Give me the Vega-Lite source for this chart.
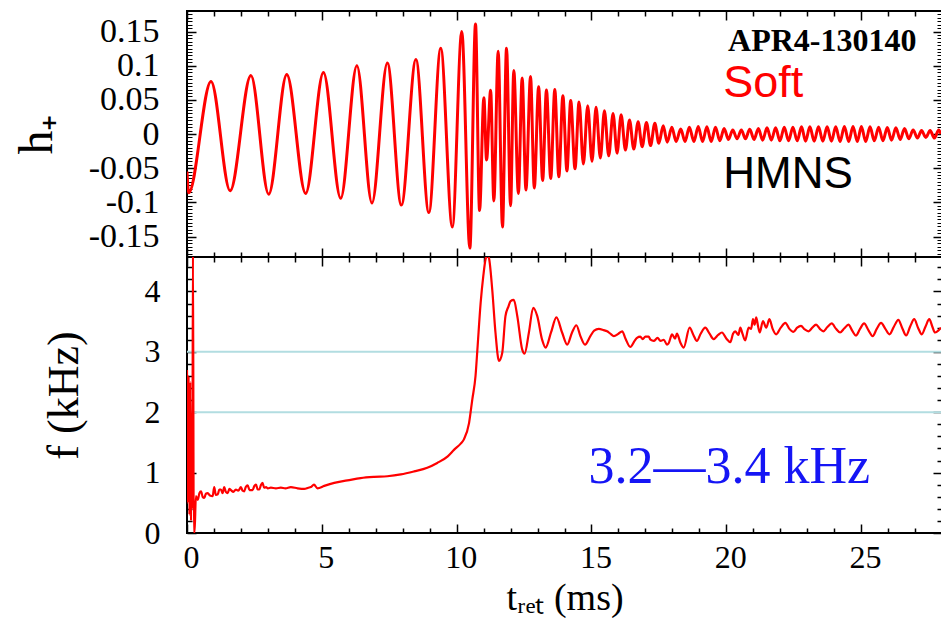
{
"$schema": "https://vega.github.io/schema/vega-lite/v6.json",
"background": "white",
"padding": {"left": 12, "top": 9, "right": 0, "bottom": 0},
"bounds": "flush",
"config": {
  "view": {"stroke": "black", "strokeWidth": 2},
  "axis": {"domain": false, "grid": false, "labelFont": "Liberation Serif", "labelFontSize": 32, "labelColor": "black", "tickColor": "black", "tickWidth": 1.5, "titleFont": "Liberation Serif", "titleFontSize": 44, "titleFontWeight": "normal", "titleColor": "black", "labelFlush": false, "labelOverlap": false}
},
"datasets": {
  "hp": [
{"t":0,"h":-0.055},{"t":0.06,"h":-0.086},{"t":0.89,"h":0.077},{"t":1.6,"h":-0.083},{"t":2.37,"h":0.0855},{"t":3.03,"h":-0.088},{"t":3.7,"h":0.087},{"t":4.4,"h":-0.087},{"t":5.06,"h":0.09},{"t":5.7,"h":-0.094},{"t":6.3,"h":0.1},{"t":6.86,"h":-0.101},{"t":7.43,"h":0.104},{"t":7.95,"h":-0.104},{"t":8.49,"h":0.109},{"t":8.97,"h":-0.115},{"t":9.41,"h":0.1255},{"t":9.84,"h":-0.136},{"t":10.19,"h":0.15},{"t":10.49,"h":-0.167},{"t":10.7,"h":0.161},{"t":10.85,"h":-0.112},{"t":11.01,"h":0.053},{"t":11.11,"h":-0.038},{"t":11.26,"h":0.064},{"t":11.38,"h":-0.098},{"t":11.54,"h":0.121},{"t":11.7,"h":-0.136},{"t":11.85,"h":0.1255},{"t":12.0,"h":-0.105},{"t":12.12,"h":0.093},{"t":12.29,"h":-0.087},{"t":12.43,"h":0.082},{"t":12.57,"h":-0.082},{"t":12.74,"h":0.084},{"t":12.88,"h":-0.079},{"t":13.04,"h":0.069},{"t":13.19,"h":-0.068},{"t":13.33,"h":0.0645},{"t":13.49,"h":-0.065},{"t":13.64,"h":0.065},{"t":13.79,"h":-0.0626},{"t":13.94,"h":0.056},{"t":14.09,"h":-0.054},{"t":14.23,"h":0.049},{"t":14.39,"h":-0.051},{"t":14.54,"h":0.047},{"t":14.7,"h":-0.044},{"t":14.86,"h":0.0415},{"t":15.02,"h":-0.04},{"t":15.17,"h":0.039},{"t":15.33,"h":-0.035},{"t":15.48,"h":0.034},{"t":15.64,"h":-0.032},{"t":15.8,"h":0.03},{"t":15.95,"h":-0.028},{"t":16.1,"h":0.028},{"t":16.26,"h":-0.0235},{"t":16.41,"h":0.0205},{"t":16.57,"h":-0.022},{"t":16.73,"h":0.018},{"t":16.88,"h":-0.0186},{"t":17.04,"h":0.017},{"t":17.19,"h":-0.017},{"t":17.35,"h":0.0156},{"t":17.5,"h":-0.0137},{"t":17.66,"h":0.012},{"t":17.81,"h":-0.012},{"t":17.98,"h":0.0098},{"t":18.14,"h":-0.011},{"t":18.31,"h":0.0073},{"t":18.47,"h":-0.011},{"t":18.63,"h":0.0098},{"t":18.8,"h":-0.011},{"t":18.96,"h":0.011},{"t":19.12,"h":-0.011},{"t":19.28,"h":0.0105},{"t":19.44,"h":-0.011},{"t":19.6,"h":0.01},{"t":19.76,"h":-0.01},{"t":19.92,"h":0.008},{"t":20.08,"h":-0.008},{"t":20.24,"h":0.006},{"t":20.4,"h":-0.007},{"t":20.56,"h":0.006},{"t":20.71,"h":-0.007},{"t":20.87,"h":0.007},{"t":21.03,"h":-0.008},{"t":21.19,"h":0.008},{"t":21.35,"h":-0.009},{"t":21.51,"h":0.009},{"t":21.67,"h":-0.009},{"t":21.83,"h":0.009},{"t":21.99,"h":-0.01},{"t":22.15,"h":0.01},{"t":22.31,"h":-0.01},{"t":22.47,"h":0.01},{"t":22.63,"h":-0.01},{"t":22.79,"h":0.0105},{"t":22.94,"h":-0.0105},{"t":23.1,"h":0.0105},{"t":23.26,"h":-0.0105},{"t":23.42,"h":0.0105},{"t":23.58,"h":-0.0105},{"t":23.74,"h":0.0105},{"t":23.9,"h":-0.0105},{"t":24.06,"h":0.0105},{"t":24.22,"h":-0.011},{"t":24.38,"h":0.011},{"t":24.54,"h":-0.011},{"t":24.7,"h":0.011},{"t":24.86,"h":-0.011},{"t":25.01,"h":0.011},{"t":25.17,"h":-0.011},{"t":25.33,"h":0.0105},{"t":25.49,"h":-0.01},{"t":25.65,"h":0.01},{"t":25.81,"h":-0.01},{"t":25.97,"h":0.0095},{"t":26.13,"h":-0.009},{"t":26.29,"h":0.009},{"t":26.45,"h":-0.008},{"t":26.61,"h":0.008},{"t":26.77,"h":-0.007},{"t":26.93,"h":0.006},{"t":27.09,"h":-0.006},{"t":27.24,"h":0.005},{"t":27.4,"h":-0.005},{"t":27.56,"h":0.005},{"t":27.72,"h":-0.006},{"t":27.88,"h":0.006},{"t":27.96,"h":0.0}
  ],
  "freq": [
{"t":0.0,"f":2.7},{"t":0.03,"f":0.5},{"t":0.06,"f":2.6},{"t":0.09,"f":0.3},{"t":0.12,"f":2.5},{"t":0.15,"f":0.2},{"t":0.18,"f":2.0},{"t":0.2,"f":0.4},{"t":0.22,"f":4.8},{"t":0.25,"f":0.0},{"t":0.28,"f":0.0},{"t":0.33,"f":0.61},{"t":0.4,"f":0.55},{"t":0.46,"f":0.66},{"t":0.52,"f":0.69},{"t":0.58,"f":0.6},{"t":0.64,"f":0.58},{"t":0.7,"f":0.65},{"t":0.77,"f":0.66},{"t":0.85,"f":0.62},{"t":0.95,"f":0.61},{"t":1.01,"f":0.76},{"t":1.07,"f":0.63},{"t":1.14,"f":0.64},{"t":1.2,"f":0.72},{"t":1.26,"f":0.72},{"t":1.32,"f":0.66},{"t":1.38,"f":0.76},{"t":1.44,"f":0.68},{"t":1.51,"f":0.66},{"t":1.57,"f":0.73},{"t":1.63,"f":0.71},{"t":1.72,"f":0.68},{"t":1.81,"f":0.72},{"t":1.9,"f":0.7},{"t":2.0,"f":0.76},{"t":2.06,"f":0.7},{"t":2.12,"f":0.69},{"t":2.18,"f":0.76},{"t":2.25,"f":0.79},{"t":2.32,"f":0.71},{"t":2.43,"f":0.71},{"t":2.5,"f":0.78},{"t":2.56,"f":0.8},{"t":2.62,"f":0.72},{"t":2.68,"f":0.72},{"t":2.74,"f":0.79},{"t":2.8,"f":0.83},{"t":2.86,"f":0.75},{"t":2.93,"f":0.76},{"t":3.0,"f":0.74},{"t":3.11,"f":0.75},{"t":3.3,"f":0.74},{"t":3.48,"f":0.75},{"t":3.65,"f":0.74},{"t":3.85,"f":0.76},{"t":4.1,"f":0.74},{"t":4.35,"f":0.73},{"t":4.5,"f":0.75},{"t":4.59,"f":0.76},{"t":4.71,"f":0.8},{"t":4.84,"f":0.74},{"t":5.09,"f":0.78},{"t":5.46,"f":0.83},{"t":5.95,"f":0.87},{"t":6.44,"f":0.91},{"t":6.94,"f":0.93},{"t":7.43,"f":0.94},{"t":7.93,"f":0.97},{"t":8.42,"f":1.02},{"t":8.91,"f":1.08},{"t":9.28,"f":1.16},{"t":9.67,"f":1.27},{"t":9.91,"f":1.38},{"t":10.15,"f":1.48},{"t":10.27,"f":1.55},{"t":10.46,"f":1.82},{"t":10.58,"f":2.21},{"t":10.7,"f":2.6},{"t":10.77,"f":3.04},{"t":10.89,"f":3.81},{"t":10.99,"f":4.26},{"t":11.07,"f":4.53},{"t":11.14,"f":4.6},{"t":11.2,"f":4.55},{"t":11.32,"f":4.03},{"t":11.44,"f":3.32},{"t":11.57,"f":2.85},{"t":11.69,"f":2.98},{"t":11.81,"f":3.59},{"t":11.92,"f":3.75},{"t":12.0,"f":3.84},{"t":12.12,"f":3.86},{"t":12.25,"f":3.59},{"t":12.43,"f":3.04},{"t":12.52,"f":2.97},{"t":12.68,"f":3.32},{"t":12.84,"f":3.73},{"t":12.99,"f":3.59},{"t":13.17,"f":3.2},{"t":13.3,"f":3.07},{"t":13.5,"f":3.32},{"t":13.7,"f":3.57},{"t":13.91,"f":3.32},{"t":14.1,"f":3.12},{"t":14.28,"f":3.32},{"t":14.44,"f":3.44},{"t":14.59,"f":3.26},{"t":14.76,"f":3.12},{"t":14.96,"f":3.26},{"t":15.1,"f":3.35},{"t":15.27,"f":3.38},{"t":15.45,"f":3.36},{"t":15.58,"f":3.34},{"t":15.7,"f":3.3},{"t":15.83,"f":3.26},{"t":16.0,"f":3.3},{"t":16.14,"f":3.34},{"t":16.26,"f":3.22},{"t":16.44,"f":3.08},{"t":16.6,"f":3.18},{"t":16.69,"f":3.23},{"t":16.81,"f":3.25},{"t":16.9,"f":3.21},{"t":17.0,"f":3.25},{"t":17.12,"f":3.25},{"t":17.19,"f":3.2},{"t":17.31,"f":3.18},{"t":17.45,"f":3.23},{"t":17.56,"f":3.18},{"t":17.68,"f":3.2},{"t":17.8,"f":3.12},{"t":17.86,"f":3.14},{"t":17.99,"f":3.29},{"t":18.1,"f":3.22},{"t":18.17,"f":3.3},{"t":18.3,"f":3.15},{"t":18.42,"f":3.07},{"t":18.64,"f":3.4},{"t":18.78,"f":3.28},{"t":18.91,"f":3.18},{"t":19.05,"f":3.3},{"t":19.22,"f":3.4},{"t":19.38,"f":3.3},{"t":19.53,"f":3.21},{"t":19.7,"f":3.28},{"t":19.84,"f":3.32},{"t":20.0,"f":3.22},{"t":20.15,"f":3.16},{"t":20.25,"f":3.3},{"t":20.33,"f":3.34},{"t":20.45,"f":3.28},{"t":20.52,"f":3.4},{"t":20.6,"f":3.3},{"t":20.7,"f":3.19},{"t":20.83,"f":3.4},{"t":20.92,"f":3.38},{"t":20.99,"f":3.54},{"t":21.05,"f":3.45},{"t":21.11,"f":3.57},{"t":21.18,"f":3.42},{"t":21.24,"f":3.32},{"t":21.36,"f":3.51},{"t":21.48,"f":3.4},{"t":21.6,"f":3.54},{"t":21.72,"f":3.38},{"t":21.85,"f":3.29},{"t":22.02,"f":3.4},{"t":22.19,"f":3.48},{"t":22.34,"f":3.38},{"t":22.49,"f":3.33},{"t":22.63,"f":3.4},{"t":22.77,"f":3.43},{"t":22.91,"f":3.37},{"t":23.05,"f":3.34},{"t":23.19,"f":3.4},{"t":23.33,"f":3.45},{"t":23.47,"f":3.38},{"t":23.6,"f":3.34},{"t":23.75,"f":3.41},{"t":23.91,"f":3.47},{"t":24.07,"f":3.38},{"t":24.22,"f":3.32},{"t":24.38,"f":3.39},{"t":24.53,"f":3.45},{"t":24.67,"f":3.35},{"t":24.81,"f":3.27},{"t":24.96,"f":3.38},{"t":25.11,"f":3.47},{"t":25.27,"f":3.36},{"t":25.43,"f":3.26},{"t":25.58,"f":3.38},{"t":25.74,"f":3.48},{"t":25.9,"f":3.38},{"t":26.05,"f":3.29},{"t":26.22,"f":3.42},{"t":26.38,"f":3.53},{"t":26.52,"f":3.4},{"t":26.67,"f":3.27},{"t":26.82,"f":3.42},{"t":26.97,"f":3.54},{"t":27.11,"f":3.4},{"t":27.25,"f":3.29},{"t":27.39,"f":3.42},{"t":27.53,"f":3.54},{"t":27.64,"f":3.42},{"t":27.74,"f":3.32},{"t":27.96,"f":3.4}
  ],
  "refs": [{"f": 2}, {"f": 3}]
},
"spacing": 0,
"vconcat": [
  {
    "width": 755, "height": 246,
    "resolve": {"axis": {"x": "independent", "y": "independent"}},
    "layer": [
      {"data": {"name": "hp"}, "mark": {"type": "line", "color": "#ff0000", "strokeWidth": 3, "interpolate": "monotone", "clip": true},
       "encoding": {
         "x": {"field": "t", "type": "quantitative", "scale": {"domain": [0, 28], "nice": false, "zero": false}, "axis": {"orient": "bottom", "values": [0,5,10,15,20,25], "labels": false, "ticks": true, "tickSize": 9, "offset": -9, "title": null}},
         "y": {"field": "h", "type": "quantitative", "scale": {"domain": [-0.18, 0.18], "nice": false, "zero": false}, "axis": {"orient": "left", "values": [-0.15,-0.1,-0.05,0,0.05,0.1,0.15], "ticks": false, "tickSize": 0, "labelPadding": 28, "labelFontSize": 34, "labelExpr": "'' + datum.value", "title": "h₊", "titleFontSize": 48, "titleX": -136, "titleBaseline": "alphabetic"}}
       }},
      {"data": {"name": "hp"}, "mark": {"type": "line", "opacity": 0},
       "encoding": {
         "x": {"field": "t", "type": "quantitative", "axis": {"orient": "bottom", "values": [1,2,3,4,6,7,8,9,11,12,13,14,16,17,18,19,21,22,23,24,26,27], "labels": false, "tickSize": 5, "offset": -5, "title": null}},
         "y": {"field": "h", "type": "quantitative", "axis": {"orient": "left", "values": [-0.15,-0.1,-0.05,0,0.05,0.1,0.15], "labels": false, "tickSize": 9, "offset": -9, "title": null}}
       }},
      {"data": {"name": "hp"}, "mark": {"type": "line", "opacity": 0},
       "encoding": {
         "x": {"field": "t", "type": "quantitative", "axis": {"orient": "top", "values": [0,5,10,15,20,25], "labels": false, "tickSize": 9, "offset": -9, "title": null}},
         "y": {"field": "h", "type": "quantitative", "axis": {"orient": "left", "values": [-0.175,-0.17,-0.165,-0.16,-0.155,-0.145,-0.14,-0.135,-0.13,-0.125,-0.12,-0.115,-0.11,-0.105,-0.095,-0.09,-0.085,-0.08,-0.075,-0.07,-0.065,-0.06,-0.055,-0.045,-0.04,-0.035,-0.03,-0.025,-0.02,-0.015,-0.01,-0.005,0.005,0.01,0.015,0.02,0.025,0.03,0.035,0.04,0.045,0.055,0.06,0.065,0.07,0.075,0.08,0.085,0.09,0.095,0.105,0.11,0.115,0.12,0.125,0.13,0.135,0.14,0.145,0.155,0.16,0.165,0.17,0.175], "labels": false, "tickSize": 5, "tickWidth": 1, "offset": -5, "title": null}}
       }},
      {"data": {"name": "hp"}, "mark": {"type": "line", "opacity": 0},
       "encoding": {
         "x": {"field": "t", "type": "quantitative", "axis": {"orient": "top", "values": [1,2,3,4,6,7,8,9,11,12,13,14,16,17,18,19,21,22,23,24,26,27], "labels": false, "tickSize": 5, "offset": -5, "title": null}},
         "y": {"field": "h", "type": "quantitative", "axis": {"orient": "right", "values": [-0.15,-0.1,-0.05,0,0.05,0.1,0.15], "labels": false, "tickSize": 9, "offset": -9, "title": null}}
       }},
      {"data": {"name": "hp"}, "mark": {"type": "line", "opacity": 0},
       "encoding": {
         "x": {"field": "t", "type": "quantitative", "axis": null},
         "y": {"field": "h", "type": "quantitative", "axis": {"orient": "right", "values": [-0.175,-0.17,-0.165,-0.16,-0.155,-0.145,-0.14,-0.135,-0.13,-0.125,-0.12,-0.115,-0.11,-0.105,-0.095,-0.09,-0.085,-0.08,-0.075,-0.07,-0.065,-0.06,-0.055,-0.045,-0.04,-0.035,-0.03,-0.025,-0.02,-0.015,-0.01,-0.005,0.005,0.01,0.015,0.02,0.025,0.03,0.035,0.04,0.045,0.055,0.06,0.065,0.07,0.075,0.08,0.085,0.09,0.095,0.105,0.11,0.115,0.12,0.125,0.13,0.135,0.14,0.145,0.155,0.16,0.165,0.17,0.175], "labels": false, "tickSize": 5, "tickWidth": 1, "offset": -5, "title": null}}
       }},
      {"data": {"values": [{}]}, "mark": {"type": "text", "font": "Liberation Serif", "fontSize": 32, "fontWeight": "bold", "align": "center", "baseline": "alphabetic", "color": "black"},
       "encoding": {"x": {"datum": 23.56, "type": "quantitative", "axis": null}, "y": {"datum": 0.122, "type": "quantitative", "axis": null}, "text": {"value": "APR4-130140"}}},
      {"data": {"values": [{}]}, "mark": {"type": "text", "font": "Liberation Sans", "fontSize": 45, "align": "left", "baseline": "alphabetic", "color": "#ff0000"},
       "encoding": {"x": {"datum": 19.89, "type": "quantitative", "axis": null}, "y": {"datum": 0.0537, "type": "quantitative", "axis": null}, "text": {"value": "Soft"}}},
      {"data": {"values": [{}]}, "mark": {"type": "text", "font": "Liberation Sans", "fontSize": 44, "align": "left", "baseline": "alphabetic", "color": "black"},
       "encoding": {"x": {"datum": 19.89, "type": "quantitative", "axis": null}, "y": {"datum": -0.079, "type": "quantitative", "axis": null}, "text": {"value": "HMNS"}}}
    ]
  },
  {
    "width": 755, "height": 276,
    "resolve": {"axis": {"x": "independent", "y": "independent"}},
    "layer": [
      {"data": {"name": "refs"}, "mark": {"type": "rule", "color": "#b2dde1", "strokeWidth": 2},
       "encoding": {"y": {"field": "f", "type": "quantitative", "scale": {"domain": [0, 4.57], "nice": false, "zero": false}, "axis": null}}},
      {"data": {"name": "freq"}, "mark": {"type": "line", "color": "#ff0000", "strokeWidth": 2.2, "interpolate": "monotone", "clip": true},
       "encoding": {
         "x": {"field": "t", "type": "quantitative", "scale": {"domain": [0, 28], "nice": false, "zero": false}, "axis": {"orient": "bottom", "values": [0,5,10,15,20,25], "ticks": false, "tickSize": 0, "labelPadding": 9, "labelOffset": 4, "title": "tᵣₑₜ (ms)", "titleFontSize": 38, "titleY": 76, "titleBaseline": "alphabetic"}},
         "y": {"field": "f", "type": "quantitative", "axis": {"orient": "left", "values": [0,1,2,3,4], "ticks": false, "tickSize": 0, "labelPadding": 27, "labelExpr": "'' + datum.value", "title": "f (kHz)", "titleX": -110, "titleBaseline": "alphabetic"}}
       }},
      {"data": {"name": "freq"}, "mark": {"type": "line", "opacity": 0},
       "encoding": {
         "x": {"field": "t", "type": "quantitative", "axis": {"orient": "bottom", "values": [0,5,10,15,20,25], "labels": false, "tickSize": 9, "offset": -9, "title": null}},
         "y": {"field": "f", "type": "quantitative", "axis": {"orient": "left", "values": [0,1,2,3,4], "labels": false, "tickSize": 9, "offset": -9, "title": null}}
       }},
      {"data": {"name": "freq"}, "mark": {"type": "line", "opacity": 0},
       "encoding": {
         "x": {"field": "t", "type": "quantitative", "axis": {"orient": "bottom", "values": [1,2,3,4,6,7,8,9,11,12,13,14,16,17,18,19,21,22,23,24,26,27], "labels": false, "tickSize": 5, "offset": -5, "title": null}},
         "y": {"field": "f", "type": "quantitative", "axis": {"orient": "left", "values": [0.2,0.4,0.6,0.8,1.2,1.4,1.6,1.8,2.2,2.4,2.6,2.8,3.2,3.4,3.6,3.8,4.2,4.4], "labels": false, "tickSize": 5, "offset": -5, "title": null}}
       }},
      {"data": {"name": "freq"}, "mark": {"type": "line", "opacity": 0},
       "encoding": {
         "x": {"field": "t", "type": "quantitative", "axis": {"orient": "top", "values": [0,5,10,15,20,25], "labels": false, "tickSize": 9, "offset": -9, "title": null}},
         "y": {"field": "f", "type": "quantitative", "axis": {"orient": "right", "values": [0,1,2,3,4], "labels": false, "tickSize": 9, "offset": -9, "title": null}}
       }},
      {"data": {"name": "freq"}, "mark": {"type": "line", "opacity": 0},
       "encoding": {
         "x": {"field": "t", "type": "quantitative", "axis": {"orient": "top", "values": [1,2,3,4,6,7,8,9,11,12,13,14,16,17,18,19,21,22,23,24,26,27], "labels": false, "tickSize": 5, "offset": -5, "title": null}},
         "y": {"field": "f", "type": "quantitative", "axis": {"orient": "right", "values": [0.2,0.4,0.6,0.8,1.2,1.4,1.6,1.8,2.2,2.4,2.6,2.8,3.2,3.4,3.6,3.8,4.2,4.4], "labels": false, "tickSize": 5, "offset": -5, "title": null}}
       }},
      {"data": {"values": [{}]}, "mark": {"type": "text", "font": "Liberation Serif", "fontSize": 52, "align": "left", "baseline": "alphabetic", "color": "#1515f5"},
       "encoding": {"x": {"datum": 14.89, "type": "quantitative", "axis": null}, "y": {"datum": 0.83, "type": "quantitative", "axis": null}, "text": {"value": "3.2—3.4 kHz"}}}
    ]
  }
]
}
